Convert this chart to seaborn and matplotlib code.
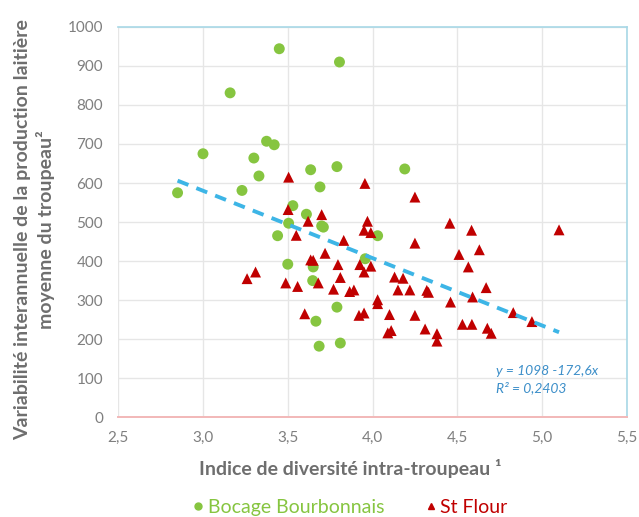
import numpy as np
import pandas as pd
import matplotlib
matplotlib.use("Agg")
import matplotlib.pyplot as plt
from matplotlib.lines import Line2D
import seaborn as sns

# ---- data ----
bocage_x = [2.85, 3.00, 3.16, 3.23, 3.30, 3.33, 3.375, 3.42, 3.45, 3.44, 3.50, 3.53, 3.505,
            3.61, 3.635, 3.69, 3.70, 3.71, 3.65, 3.647, 3.666, 3.685, 3.79, 3.79, 3.805,
            3.81, 3.957, 4.03, 4.19]
bocage_y = [575, 675, 831, 581, 664, 618, 707, 698, 944, 465, 392, 542, 497,
            520, 634, 590, 490, 487, 385, 350, 246, 182, 282, 642, 910,
            190, 406, 465, 636]

flour_x = [3.26, 3.31, 3.488, 3.558, 3.505, 3.502, 3.55, 3.60, 3.62, 3.635, 3.65, 3.70,
           3.68, 3.72, 3.77, 3.796, 3.81, 3.83, 3.865, 3.89, 3.92, 3.95, 3.925, 3.95,
           3.955, 3.97, 3.95, 3.99, 3.99, 4.03, 4.03, 4.09, 4.11, 4.10, 4.13, 4.18,
           4.15, 4.22, 4.25, 4.25, 4.25, 4.31, 4.32, 4.33, 4.38, 4.38, 4.456, 4.46,
           4.51, 4.53, 4.586, 4.565, 4.584, 4.59, 4.63, 4.67, 4.677, 4.70, 4.83, 4.94, 5.10]
flour_y = [355, 372, 344, 335, 615, 532, 466, 265, 502, 403, 402, 519,
           344, 420, 328, 391, 358, 453, 322, 326, 261, 267, 391, 372,
           599, 502, 479, 473, 387, 301, 291, 216, 222, 263, 359, 356,
           326, 326, 261, 446, 564, 226, 325, 320, 214, 195, 497, 295,
           417, 238, 238, 385, 479, 308, 429, 332, 228, 215, 268, 245, 480]

groups = ["Bocage Bourbonnais", "St Flour"]
trend_intercept = 1098
trend_slope = -172.6
trend_label = "y = 1098 -172,6x\nR² = 0,2403"

x_ticks = [2.5, 3.0, 3.5, 4.0, 4.5, 5.0, 5.5]
x_tick_labels = ["2,5", "3,0", "3,5", "4,0", "4,5", "5,0", "5,5"]
y_ticks = list(range(0, 1001, 100))

df = pd.DataFrame({
    "x": bocage_x + flour_x,
    "y": bocage_y + flour_y,
    "groupe": [groups[0]] * len(bocage_x) + [groups[1]] * len(flour_x),
})

# ---- style ----
sns.set_theme(style="white")
plt.rcParams["font.family"] = ["Lato", "DejaVu Sans"]

green = "#86C540"
red = "#C00000"
gray = "#7F7F7F"
label_gray = "#6E6E6E"

fig = plt.figure(figsize=(6.39, 5.17), dpi=100)
ax = fig.add_axes([0.185, 0.193, 0.796, 0.755])

sns.scatterplot(data=df, x="x", y="y", hue="groupe", style="groupe",
                palette={groups[0]: green, groups[1]: red},
                markers={groups[0]: "o", groups[1]: "^"},
                s=62, linewidth=0, ax=ax, legend=False, zorder=3)

# trend line
xl = np.array([min(df["x"]), max(df["x"])])
sns.lineplot(x=xl, y=trend_intercept + trend_slope * xl, ax=ax,
             color="#3DB5E6", linewidth=2.8, linestyle=(0, (3.0, 2.2)), zorder=4)
ax.text(4.73, 97, trend_label, color="#3D8FC9", fontsize=10, style="italic",
        va="center", ha="left", linespacing=1.4)

ax.set_xlim(2.5, 5.5)
ax.set_ylim(0, 1000)
ax.set_xticks(x_ticks)
ax.set_xticklabels(x_tick_labels)
ax.set_yticks(y_ticks)
ax.tick_params(axis="both", labelsize=11, labelcolor=gray, length=0)
ax.tick_params(axis="y", pad=11)
ax.tick_params(axis="x", pad=10)
ax.grid(True, color="#E6E6E6", linewidth=1.0)
ax.set_axisbelow(True)

for side in ["top", "right"]:
    ax.spines[side].set_color("#A8D8E6")
    ax.spines[side].set_linewidth(1.2)
ax.spines["left"].set_visible(False)
ax.spines["bottom"].set_color("#F2B8B8")
ax.spines["bottom"].set_linewidth(1.4)

ax.set_xlabel("Indice de diversité intra-troupeau ¹", fontsize=14,
              fontweight="bold", color=label_gray, va="center")
ax.xaxis.set_label_coords(0.456, -0.131)
ax.set_ylabel("Variabilité interannuelle de la production laitière\nmoyenne du troupeau²",
              fontsize=14, fontweight="bold", color=label_gray, va="center",
              linespacing=1.3)
ax.yaxis.set_label_coords(-0.165, 0.48)

# legend
handles = [Line2D([], [], marker="o", color=green, linestyle="", markersize=5),
           Line2D([], [], marker="^", color=red, linestyle="", markersize=5)]
leg = fig.legend(handles, groups, loc="center", bbox_to_anchor=(0.546, 0.018),
                 ncol=2, frameon=False, fontsize=14, handletextpad=0.1,
                 columnspacing=2.0, handlelength=0.8, borderpad=0)
for t, c in zip(leg.get_texts(), [green, red]):
    t.set_color(c)

fig.savefig("out.png", dpi=100)
